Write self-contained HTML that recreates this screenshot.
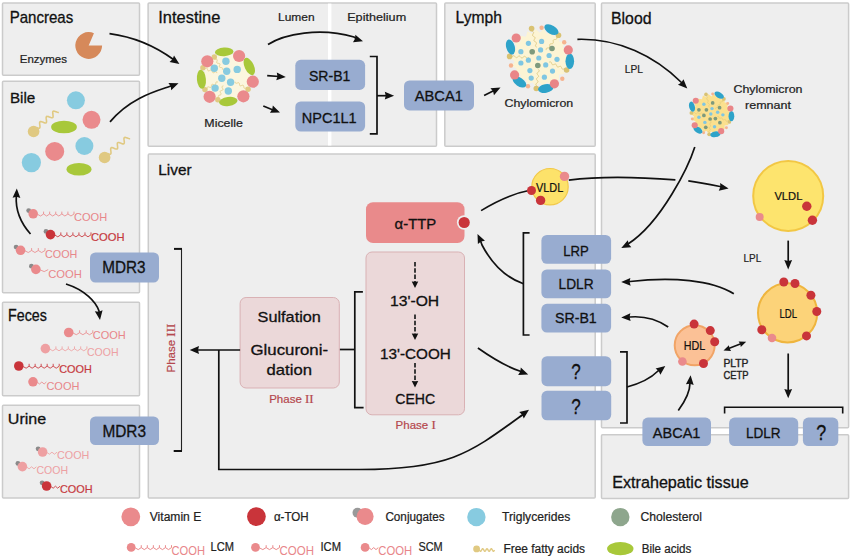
<!DOCTYPE html>
<html><head><meta charset="utf-8"><style>
html,body{margin:0;padding:0;background:#fff;width:850px;height:557px;overflow:hidden}
text{font-family:"Liberation Sans",sans-serif}
</style></head><body>
<svg width="850" height="557" viewBox="0 0 850 557" style="display:block;font-family:'Liberation Sans',sans-serif">
<rect width="850" height="557" fill="#ffffff"/>
<rect x="2.5" y="3.1" width="137.0" height="72.10000000000001" rx="1" fill="#eeeeee" stroke="#cbcbcb" stroke-width="1.5"/>
<rect x="2.5" y="81.2" width="137.0" height="211.60000000000002" rx="1" fill="#eeeeee" stroke="#cbcbcb" stroke-width="1.5"/>
<rect x="2.5" y="302.2" width="137.0" height="93.60000000000002" rx="1" fill="#eeeeee" stroke="#cbcbcb" stroke-width="1.5"/>
<rect x="2.5" y="405.2" width="137.0" height="92.80000000000001" rx="1" fill="#eeeeee" stroke="#cbcbcb" stroke-width="1.5"/>
<rect x="148.1" y="3.1" width="288.4" height="143.20000000000002" rx="1" fill="#eeeeee" stroke="#cbcbcb" stroke-width="1.5"/>
<rect x="444.8" y="3.1" width="150.40000000000003" height="143.20000000000002" rx="1" fill="#eeeeee" stroke="#cbcbcb" stroke-width="1.5"/>
<rect x="601.5" y="3.1" width="247.10000000000002" height="424.7" rx="1" fill="#eeeeee" stroke="#cbcbcb" stroke-width="1.5"/>
<rect x="148.3" y="154.0" width="446.90000000000003" height="344.0" rx="1" fill="#eeeeee" stroke="#cbcbcb" stroke-width="1.5"/>
<rect x="601.5" y="434.8" width="247.10000000000002" height="63.599999999999966" rx="1" fill="#eeeeee" stroke="#cbcbcb" stroke-width="1.5"/>
<rect x="328" y="3.6" width="3.4" height="141.9" rx="0" fill="#ffffff"/>
<text x="9.7" y="23.1" font-size="16.2" fill="#111" text-anchor="start" font-weight="normal" textLength="63.5" lengthAdjust="spacingAndGlyphs" stroke="#111" stroke-width="0.3">Pancreas</text>
<text x="9.9" y="102.5" font-size="15.2" fill="#111" text-anchor="start" font-weight="normal" textLength="25.4" lengthAdjust="spacingAndGlyphs" stroke="#111" stroke-width="0.3">Bile</text>
<text x="8.1" y="321.4" font-size="16.3" fill="#111" text-anchor="start" font-weight="normal" textLength="38.8" lengthAdjust="spacingAndGlyphs" stroke="#111" stroke-width="0.3">Feces</text>
<text x="7.8" y="423.7" font-size="15.2" fill="#111" text-anchor="start" font-weight="normal" textLength="38.4" lengthAdjust="spacingAndGlyphs" stroke="#111" stroke-width="0.3">Urine</text>
<text x="158.3" y="22.7" font-size="16.2" fill="#111" text-anchor="start" font-weight="normal" textLength="62.1" lengthAdjust="spacingAndGlyphs" stroke="#111" stroke-width="0.3">Intestine</text>
<text x="455.6" y="22.7" font-size="16.3" fill="#111" text-anchor="start" font-weight="normal" textLength="46.3" lengthAdjust="spacingAndGlyphs" stroke="#111" stroke-width="0.3">Lymph</text>
<text x="611" y="23.6" font-size="16.6" fill="#111" text-anchor="start" font-weight="normal" textLength="40.5" lengthAdjust="spacingAndGlyphs" stroke="#111" stroke-width="0.3">Blood</text>
<text x="158.3" y="175.1" font-size="15" fill="#111" text-anchor="start" font-weight="normal" textLength="33.3" lengthAdjust="spacingAndGlyphs" stroke="#111" stroke-width="0.3">Liver</text>
<text x="612.2" y="487.9" font-size="16.3" fill="#111" text-anchor="start" font-weight="normal" textLength="136.5" lengthAdjust="spacingAndGlyphs" stroke="#111" stroke-width="0.3">Extrahepatic tissue</text>
<path d="M88.7,45.5 L93.94,33.17 A13.4,13.4 0 1,0 102.10,45.50 Z" fill="#d6895a"/>
<text x="19.8" y="63.2" font-size="11" fill="#222" text-anchor="start" font-weight="normal" textLength="47.2" lengthAdjust="spacingAndGlyphs" stroke="#222" stroke-width="0.22">Enzymes</text>
<circle cx="75.90" cy="100.30" r="9.0" fill="#87cbe0"/>
<circle cx="91.50" cy="119.80" r="9.0" fill="#ea8a8c"/>
<ellipse cx="64.00" cy="127.00" rx="12.9" ry="6.3" fill="#a8c83a" transform="rotate(0 64.00 127.00)"/>
<path d="M36.50,127.50 L37.32,127.81 L38.09,128.06 L38.76,128.18 L39.29,128.14 L39.67,127.90 L39.90,127.46 L39.97,126.84 L39.94,126.07 L39.83,125.22 L39.70,124.34 L39.61,123.51 L39.60,122.77 L39.71,122.19 L39.97,121.80 L40.39,121.61 L40.96,121.61 L41.66,121.77 L42.44,122.04 L43.27,122.36 L44.08,122.67 L44.83,122.89 L45.47,122.97 L45.97,122.88 L46.31,122.59 L46.49,122.10 L46.54,121.44 L46.48,120.65 L46.36,119.78 L46.24,118.91 L46.16,118.09 L46.17,117.39 L46.32,116.86 L46.62,116.52 L47.08,116.38 L47.69,116.42 L48.41,116.61 L49.21,116.90 L50.04,117.22 L50.84,117.51 L51.56,117.70 L52.17,117.75 L52.63,117.61 L52.93,117.27 L53.08,116.73 L53.09,116.03 L53.01,115.22 L52.89,114.34 L52.77,113.48 L52.71,112.69 L52.76,112.02 L52.94,111.54 L53.28,111.25 L53.78,111.15 L54.42,111.24 L55.17,111.46 L55.98,111.76 L56.81,112.08 L57.59,112.35 L58.29,112.51 L58.86,112.51" stroke="#e0c982" stroke-width="1.6" fill="none"/>
<circle cx="33.60" cy="131.50" r="5.8" fill="#e0c982"/>
<circle cx="54.70" cy="151.40" r="9.5" fill="#ea8a8c"/>
<circle cx="84.40" cy="146.00" r="9.0" fill="#87cbe0"/>
<circle cx="31.40" cy="162.60" r="9.6" fill="#87cbe0"/>
<path d="M107.50,153.50 L108.32,153.82 L109.08,154.08 L109.75,154.21 L110.29,154.17 L110.68,153.93 L110.90,153.50 L110.99,152.87 L110.97,152.11 L110.87,151.25 L110.76,150.37 L110.68,149.53 L110.67,148.80 L110.79,148.22 L111.06,147.83 L111.49,147.65 L112.06,147.65 L112.76,147.82 L113.54,148.10 L114.36,148.43 L115.17,148.74 L115.92,148.97 L116.56,149.06 L117.06,148.97 L117.40,148.69 L117.59,148.20 L117.65,147.54 L117.60,146.74 L117.50,145.88 L117.39,145.00 L117.32,144.18 L117.35,143.48 L117.50,142.95 L117.81,142.61 L118.27,142.47 L118.88,142.52 L119.60,142.72 L120.40,143.02 L121.22,143.35 L122.02,143.65 L122.75,143.85 L123.35,143.90 L123.82,143.76 L124.12,143.43 L124.28,142.89 L124.30,142.19 L124.24,141.38 L124.13,140.50 L124.02,139.63 L123.97,138.84 L124.03,138.18 L124.22,137.69 L124.57,137.40 L125.07,137.31 L125.71,137.41 L126.45,137.64 L127.26,137.95 L128.09,138.28 L128.87,138.56 L129.57,138.72 L130.14,138.73" stroke="#e0c982" stroke-width="1.6" fill="none"/>
<circle cx="104.60" cy="157.50" r="5.8" fill="#e0c982"/>
<ellipse cx="79.00" cy="169.20" rx="12.5" ry="6.3" fill="#a8c83a" transform="rotate(0 79.00 169.20)"/>
<path d="M30.5,234 C19,221 15.5,208 16.3,196 L16.61,194.08" stroke="#111" stroke-width="1.7" fill="none" />
<path d="M16.80,188.50 L20.37,197.93 L16.51,196.86 L12.58,197.66 Z" fill="#111"/>
<path d="M37.50,214.30 L40.54,216.00 L43.58,214.00 L43.58,211.60 M43.58,214.00 L46.62,216.00 L49.67,214.00 L49.67,211.60 M49.67,214.00 L52.71,216.00 L55.75,214.00 L55.75,211.60 M55.75,214.00 L58.79,216.00 L61.83,214.00 L61.83,211.60 M61.83,214.00 L64.88,216.00 L67.92,214.00 L67.92,211.60 M67.92,214.00 L70.96,216.00 L74.00,214.00 L74.00,211.60 M74.00,214.00" stroke="#ea8a8c" stroke-width="0.85" fill="none" stroke-linejoin="round"/>
<circle cx="28.70" cy="210.60" r="2.4" fill="#8a8a8a"/>
<circle cx="33.20" cy="213.80" r="4.8" fill="#ea8a8c"/>
<text x="74" y="221.2" font-size="11" fill="#e8868a" text-anchor="start" font-weight="normal" textLength="33.2" lengthAdjust="spacingAndGlyphs" >COOH</text>
<path d="M54.80,235.10 L57.82,236.80 L60.83,234.80 L60.83,232.40 M60.83,234.80 L63.85,236.80 L66.87,234.80 L66.87,232.40 M66.87,234.80 L69.88,236.80 L72.90,234.80 L72.90,232.40 M72.90,234.80 L75.92,236.80 L78.93,234.80 L78.93,232.40 M78.93,234.80 L81.95,236.80 L84.97,234.80 L84.97,232.40 M84.97,234.80 L87.98,236.80 L91.00,234.80 L91.00,232.40 M91.00,234.80" stroke="#c9343a" stroke-width="0.85" fill="none" stroke-linejoin="round"/>
<circle cx="46.00" cy="231.40" r="2.4" fill="#8a8a8a"/>
<circle cx="50.50" cy="234.60" r="4.8" fill="#c9343a"/>
<text x="91" y="241.3" font-size="11" fill="#c63a40" text-anchor="start" font-weight="normal" textLength="33.5" lengthAdjust="spacingAndGlyphs" stroke="#c63a40" stroke-width="0.2">COOH</text>
<path d="M24.90,250.80 L28.25,252.50 L31.60,250.50 L31.60,248.10 M31.60,250.50 L34.95,252.50 L38.30,250.50 L38.30,248.10 M38.30,250.50 L41.65,252.50 L45.00,250.50 L45.00,248.10 M45.00,250.50" stroke="#ea8a8c" stroke-width="0.85" fill="none" stroke-linejoin="round"/>
<circle cx="16.10" cy="247.10" r="2.4" fill="#8a8a8a"/>
<circle cx="20.60" cy="250.30" r="4.8" fill="#ea8a8c"/>
<text x="45" y="257.5" font-size="11" fill="#e8868a" text-anchor="start" font-weight="normal" textLength="32.4" lengthAdjust="spacingAndGlyphs" >COOH</text>
<path d="M40.20,269.90 L44.20,271.60 L48.20,269.60" stroke="#ea8a8c" stroke-width="0.85" fill="none" stroke-linejoin="round"/>
<circle cx="31.40" cy="266.20" r="2.4" fill="#8a8a8a"/>
<circle cx="35.90" cy="269.40" r="4.8" fill="#ea8a8c"/>
<text x="48.2" y="277.7" font-size="11" fill="#e8868a" text-anchor="start" font-weight="normal" textLength="33.7" lengthAdjust="spacingAndGlyphs" >COOH</text>
<path d="M73.00,333.00 L76.30,334.70 L79.60,332.70 L79.60,330.30 M79.60,332.70 L82.90,334.70 L86.20,332.70 L86.20,330.30 M86.20,332.70 L89.50,334.70 L92.80,332.70 L92.80,330.30 M92.80,332.70" stroke="#ea8a8c" stroke-width="0.85" fill="none" stroke-linejoin="round"/>
<circle cx="68.70" cy="332.50" r="4.8" fill="#ea8a8c"/>
<text x="92.8" y="339.4" font-size="11" fill="#e8868a" text-anchor="start" font-weight="normal" textLength="33.0" lengthAdjust="spacingAndGlyphs" >COOH</text>
<path d="M49.70,349.10 L52.80,350.80 L55.90,348.80 L55.90,346.40 M55.90,348.80 L59.00,350.80 L62.10,348.80 L62.10,346.40 M62.10,348.80 L65.20,350.80 L68.30,348.80 L68.30,346.40 M68.30,348.80 L71.40,350.80 L74.50,348.80 L74.50,346.40 M74.50,348.80 L77.60,350.80 L80.70,348.80 L80.70,346.40 M80.70,348.80 L83.80,350.80 L86.90,348.80 L86.90,346.40 M86.90,348.80" stroke="#eea0a2" stroke-width="0.85" fill="none" stroke-linejoin="round"/>
<circle cx="45.40" cy="348.60" r="4.8" fill="#eea0a2"/>
<text x="86.9" y="355.6" font-size="11" fill="#eda0a3" text-anchor="start" font-weight="normal" textLength="31.6" lengthAdjust="spacingAndGlyphs" >COOH</text>
<path d="M23.10,366.50 L26.11,368.20 L29.12,366.20 L29.12,363.80 M29.12,366.20 L32.12,368.20 L35.13,366.20 L35.13,363.80 M35.13,366.20 L38.14,368.20 L41.15,366.20 L41.15,363.80 M41.15,366.20 L44.16,368.20 L47.17,366.20 L47.17,363.80 M47.17,366.20 L50.17,368.20 L53.18,366.20 L53.18,363.80 M53.18,366.20 L56.19,368.20 L59.20,366.20 L59.20,363.80 M59.20,366.20" stroke="#c9343a" stroke-width="0.85" fill="none" stroke-linejoin="round"/>
<circle cx="18.80" cy="366.00" r="4.8" fill="#c9343a"/>
<text x="59.2" y="373.3" font-size="11" fill="#c63a40" text-anchor="start" font-weight="normal" textLength="32.6" lengthAdjust="spacingAndGlyphs" stroke="#c63a40" stroke-width="0.2">COOH</text>
<path d="M37.30,382.30 L39.57,384.00 L41.85,382.00 L44.12,384.00 L46.40,382.00" stroke="#ea8a8c" stroke-width="0.85" fill="none" stroke-linejoin="round"/>
<circle cx="33.00" cy="381.80" r="4.8" fill="#ea8a8c"/>
<text x="46.4" y="390.3" font-size="11" fill="#e8868a" text-anchor="start" font-weight="normal" textLength="33.0" lengthAdjust="spacingAndGlyphs" >COOH</text>
<path d="M46.90,452.50 L49.42,454.20 L51.95,452.20 L54.48,454.20 L57.00,452.20" stroke="#eea0a2" stroke-width="0.85" fill="none" stroke-linejoin="round"/>
<circle cx="38.10" cy="448.80" r="2.4" fill="#8a8a8a"/>
<circle cx="42.60" cy="452.00" r="4.8" fill="#eea0a2"/>
<text x="57" y="459.4" font-size="11" fill="#eda0a3" text-anchor="start" font-weight="normal" textLength="32.4" lengthAdjust="spacingAndGlyphs" >COOH</text>
<path d="M26.70,467.10 L29.12,468.80 L31.55,466.80 L33.98,468.80 L36.40,466.80" stroke="#eea0a2" stroke-width="0.85" fill="none" stroke-linejoin="round"/>
<circle cx="17.90" cy="463.40" r="2.4" fill="#8a8a8a"/>
<circle cx="22.40" cy="466.60" r="4.8" fill="#eea0a2"/>
<text x="36.4" y="474.4" font-size="11" fill="#eda0a3" text-anchor="start" font-weight="normal" textLength="31.6" lengthAdjust="spacingAndGlyphs" >COOH</text>
<path d="M50.90,486.50 L53.17,488.20 L55.45,486.20 L57.73,488.20 L60.00,486.20" stroke="#c9343a" stroke-width="0.85" fill="none" stroke-linejoin="round"/>
<circle cx="42.10" cy="482.80" r="2.4" fill="#8a8a8a"/>
<circle cx="46.60" cy="486.00" r="4.8" fill="#c9343a"/>
<text x="60" y="493" font-size="11" fill="#c63a40" text-anchor="start" font-weight="normal" textLength="32.6" lengthAdjust="spacingAndGlyphs" stroke="#c63a40" stroke-width="0.2">COOH</text>
<rect x="90" y="252.4" width="69" height="30.2" rx="5.5" fill="#98acd0"/>
<text x="102.3" y="273.2" font-size="16" fill="#111" text-anchor="start" font-weight="normal" textLength="43.3" lengthAdjust="spacingAndGlyphs" stroke="#111" stroke-width="0.3">MDR3</text>
<rect x="90" y="416.4" width="69" height="28.6" rx="5.5" fill="#98acd0"/>
<text x="102.4" y="437" font-size="16" fill="#111" text-anchor="start" font-weight="normal" textLength="43.6" lengthAdjust="spacingAndGlyphs" stroke="#111" stroke-width="0.3">MDR3</text>
<path d="M66,284 C85,290 96,302 99,311 L99.22,314.47" stroke="#111" stroke-width="1.7" fill="none" />
<path d="M100.00,320.00 L94.84,311.33 L98.84,311.71 L102.57,310.25 Z" fill="#111"/>
<path d="M109.5,33.6 C135,37 155,46 173.5,59.5 L174.83,60.90" stroke="#111" stroke-width="1.7" fill="none" />
<path d="M179.40,64.10 L169.54,61.96 L172.54,59.30 L174.02,55.57 Z" fill="#111"/>
<path d="M110,121.9 C131.6,95.7 161.4,89.8 173,85.2 L173.29,85.30" stroke="#111" stroke-width="1.7" fill="none" />
<path d="M178.50,83.30 L171.22,90.27 L170.69,86.30 L168.42,82.99 Z" fill="#111"/>
<circle cx="227.00" cy="77.00" r="23" fill="#fbf6df"/>
<path d="M214.30,57.00 L214.17,57.38 L214.07,57.74 L214.02,58.07 L214.03,58.35 L214.13,58.59 L214.30,58.78 L214.56,58.91 L214.88,59.00 L215.25,59.07 L215.64,59.11 L216.04,59.16 L216.40,59.22 L216.73,59.31 L216.98,59.44 L217.15,59.63 L217.25,59.87 L217.26,60.15 L217.21,60.48 L217.11,60.84 L216.98,61.22 L216.85,61.60 L216.75,61.96 L216.70,62.29 L216.71,62.57 L216.81,62.81 L216.98,63.00 L217.24,63.13 L217.56,63.22 L217.93,63.29 L218.32,63.33 L218.72,63.38 L219.08,63.44 L219.41,63.53 L219.66,63.67 L219.83,63.85 L219.93,64.09 L219.94,64.38 L219.89,64.70 L219.79,65.07 L219.66,65.44 L219.53,65.82 L219.43,66.18 L219.38,66.51 L219.39,66.80 L219.49,67.03 L219.66,67.22 L219.92,67.35 L220.24,67.45 L220.61,67.51 L221.00,67.55 L221.40,67.60 L221.76,67.66 L222.09,67.75 L222.34,67.89 L222.51,68.07 L222.61,68.31 L222.62,68.60 L222.57,68.93 L222.47,69.29 L222.34,69.66" stroke="#e0c982" stroke-width="0.8" fill="none"/>
<path d="M202.90,67.70 L203.02,68.08 L203.15,68.43 L203.31,68.72 L203.49,68.95 L203.71,69.08 L203.96,69.13 L204.24,69.08 L204.55,68.97 L204.89,68.80 L205.23,68.60 L205.58,68.40 L205.91,68.23 L206.22,68.12 L206.51,68.07 L206.76,68.12 L206.97,68.25 L207.16,68.48 L207.31,68.77 L207.44,69.12 L207.56,69.50 L207.69,69.88 L207.82,70.23 L207.97,70.52 L208.16,70.75 L208.37,70.88 L208.62,70.93 L208.91,70.88 L209.22,70.77 L209.55,70.60 L209.90,70.40 L210.24,70.20 L210.58,70.03 L210.89,69.92 L211.17,69.87 L211.42,69.92 L211.64,70.05 L211.82,70.28 L211.97,70.57 L212.11,70.92 L212.23,71.30 L212.35,71.68 L212.48,72.03 L212.64,72.32 L212.82,72.55 L213.04,72.68 L213.29,72.73 L213.57,72.68 L213.88,72.57 L214.22,72.40 L214.56,72.20 L214.91,72.00 L215.24,71.83 L215.55,71.72 L215.84,71.67 L216.09,71.72 L216.30,71.85 L216.49,72.08 L216.64,72.37 L216.77,72.72 L216.89,73.10" stroke="#e0c982" stroke-width="0.8" fill="none"/>
<path d="M204.90,89.60 L205.27,89.74 L205.63,89.86 L205.95,89.93 L206.24,89.93 L206.48,89.85 L206.67,89.68 L206.82,89.44 L206.93,89.12 L207.01,88.75 L207.07,88.36 L207.14,87.97 L207.22,87.60 L207.32,87.29 L207.47,87.04 L207.66,86.87 L207.90,86.79 L208.19,86.79 L208.52,86.86 L208.87,86.98 L209.24,87.12 L209.61,87.27 L209.97,87.39 L210.30,87.45 L210.58,87.45 L210.82,87.37 L211.02,87.21 L211.16,86.96 L211.27,86.64 L211.35,86.28 L211.42,85.89 L211.48,85.49 L211.56,85.13 L211.67,84.81 L211.81,84.56 L212.01,84.40 L212.25,84.32 L212.54,84.32 L212.86,84.38 L213.22,84.50 L213.59,84.65 L213.96,84.79 L214.31,84.91 L214.64,84.98 L214.93,84.98 L215.17,84.90 L215.36,84.73 L215.51,84.48 L215.62,84.17 L215.69,83.80 L215.76,83.41 L215.82,83.02 L215.90,82.65 L216.01,82.33 L216.16,82.09 L216.35,81.92 L216.59,81.84 L216.88,81.84 L217.21,81.91 L217.56,82.03 L217.93,82.17" stroke="#e0c982" stroke-width="0.8" fill="none"/>
<path d="M217.80,99.80 L218.18,99.68 L218.53,99.56 L218.83,99.41 L219.06,99.23 L219.20,99.02 L219.24,98.76 L219.21,98.48 L219.09,98.17 L218.93,97.83 L218.74,97.48 L218.54,97.13 L218.38,96.80 L218.27,96.48 L218.23,96.20 L218.28,95.95 L218.41,95.73 L218.64,95.56 L218.94,95.41 L219.29,95.28 L219.67,95.16 L220.05,95.05 L220.40,94.92 L220.70,94.77 L220.93,94.59 L221.07,94.38 L221.11,94.13 L221.08,93.84 L220.96,93.53 L220.80,93.19 L220.61,92.84 L220.41,92.50 L220.25,92.16 L220.14,91.85 L220.10,91.56 L220.15,91.31 L220.29,91.10 L220.51,90.92 L220.81,90.77 L221.16,90.64 L221.54,90.53 L221.92,90.41 L222.27,90.28 L222.57,90.13 L222.80,89.96 L222.94,89.74 L222.99,89.49 L222.95,89.21 L222.84,88.89 L222.67,88.56 L222.48,88.21 L222.28,87.86 L222.12,87.52 L222.01,87.21 L221.97,86.92 L222.02,86.67 L222.16,86.46 L222.38,86.28 L222.68,86.13 L223.03,86.01 L223.41,85.89" stroke="#e0c982" stroke-width="0.8" fill="none"/>
<path d="M248.10,89.30 L248.04,88.91 L247.96,88.54 L247.86,88.22 L247.72,87.97 L247.52,87.81 L247.28,87.72 L247.00,87.72 L246.67,87.78 L246.31,87.90 L245.94,88.04 L245.57,88.18 L245.21,88.30 L244.88,88.36 L244.60,88.36 L244.36,88.28 L244.17,88.11 L244.02,87.86 L243.92,87.54 L243.84,87.17 L243.78,86.78 L243.72,86.39 L243.64,86.02 L243.54,85.71 L243.40,85.46 L243.20,85.29 L242.96,85.20 L242.68,85.20 L242.35,85.27 L241.99,85.38 L241.62,85.52 L241.25,85.66 L240.89,85.78 L240.57,85.84 L240.28,85.84 L240.04,85.76 L239.85,85.59 L239.70,85.34 L239.60,85.02 L239.52,84.66 L239.46,84.26 L239.40,83.87 L239.32,83.50 L239.22,83.19 L239.08,82.94 L238.88,82.77 L238.64,82.69 L238.36,82.68 L238.03,82.75 L237.67,82.86 L237.30,83.00 L236.93,83.15 L236.57,83.26 L236.25,83.33 L235.96,83.32 L235.72,83.24 L235.53,83.07 L235.38,82.82 L235.28,82.51 L235.20,82.14 L235.14,81.75" stroke="#e0c982" stroke-width="0.8" fill="none"/>
<circle cx="214.30" cy="57.00" r="2.7" fill="#e0c982"/>
<circle cx="202.90" cy="67.70" r="2.7" fill="#e0c982"/>
<circle cx="204.90" cy="89.60" r="2.7" fill="#e0c982"/>
<circle cx="217.80" cy="99.80" r="2.7" fill="#e0c982"/>
<circle cx="248.10" cy="89.30" r="2.7" fill="#e0c982"/>
<circle cx="225.90" cy="61.30" r="3.7" fill="#87cbe0"/>
<circle cx="214.30" cy="68.30" r="3.7" fill="#87cbe0"/>
<circle cx="237.20" cy="69.40" r="3.7" fill="#87cbe0"/>
<circle cx="226.70" cy="71.20" r="3.7" fill="#87cbe0"/>
<circle cx="221.80" cy="78.20" r="3.7" fill="#87cbe0"/>
<circle cx="230.60" cy="82.30" r="3.7" fill="#87cbe0"/>
<circle cx="215.10" cy="88.10" r="3.7" fill="#87cbe0"/>
<circle cx="228.30" cy="91.00" r="3.7" fill="#87cbe0"/>
<ellipse cx="224.20" cy="51.90" rx="9.3" ry="4.3" fill="#a8c83a" transform="rotate(-3 224.20 51.90)"/>
<ellipse cx="249.30" cy="66.50" rx="9.3" ry="4.6" fill="#a8c83a" transform="rotate(65 249.30 66.50)"/>
<ellipse cx="228.30" cy="101.50" rx="9.3" ry="4.5" fill="#a8c83a" transform="rotate(-8 228.30 101.50)"/>
<ellipse cx="201.40" cy="79.30" rx="9.5" ry="4.5" fill="#a8c83a" transform="rotate(85 201.40 79.30)"/>
<circle cx="239.10" cy="56.00" r="6.1" fill="#ea8a8c"/>
<circle cx="252.80" cy="81.70" r="6.1" fill="#ea8a8c"/>
<circle cx="243.40" cy="96.30" r="6.1" fill="#ea8a8c"/>
<circle cx="209.60" cy="96.80" r="6.1" fill="#ea8a8c"/>
<circle cx="207.30" cy="61.30" r="6.1" fill="#ea8a8c"/>
<text x="204.3" y="127" font-size="11.5" fill="#222" text-anchor="start" font-weight="normal" textLength="38.6" lengthAdjust="spacingAndGlyphs" stroke="#222" stroke-width="0.22">Micelle</text>
<text x="278" y="21.2" font-size="11.5" fill="#222" text-anchor="start" font-weight="normal" textLength="36.6" lengthAdjust="spacingAndGlyphs" stroke="#222" stroke-width="0.22">Lumen</text>
<text x="347.2" y="21.2" font-size="11.5" fill="#222" text-anchor="start" font-weight="normal" textLength="59" lengthAdjust="spacingAndGlyphs" stroke="#222" stroke-width="0.22">Epithelium</text>
<path d="M268,44.5 C284,34 320,27 354,37 L357.69,39.58" stroke="#111" stroke-width="1.7" fill="none" />
<path d="M363.00,41.30 L352.95,42.14 L355.04,38.71 L355.36,34.72 Z" fill="#111"/>
<path d="M267.2,75.6 L279,76.5 L280.23,76.61" stroke="#111" stroke-width="1.7" fill="none" />
<path d="M285.80,77.00 L276.25,80.24 L277.45,76.42 L276.79,72.46 Z" fill="#111"/>
<path d="M263.3,106 L273,110 L274.83,110.41" stroke="#111" stroke-width="1.7" fill="none" />
<path d="M280.00,112.50 L269.92,112.63 L272.24,109.36 L272.84,105.40 Z" fill="#111"/>
<rect x="295.3" y="59.8" width="69.8" height="30.1" rx="5.5" fill="#98acd0"/>
<text x="309" y="80.7" font-size="15" fill="#111" text-anchor="start" font-weight="normal" textLength="41.3" lengthAdjust="spacingAndGlyphs" stroke="#111" stroke-width="0.3">SR-B1</text>
<rect x="295.3" y="101.4" width="69.8" height="30.2" rx="5.5" fill="#98acd0"/>
<text x="301.8" y="122.7" font-size="15" fill="#111" text-anchor="start" font-weight="normal" textLength="54.9" lengthAdjust="spacingAndGlyphs" stroke="#111" stroke-width="0.3">NPC1L1</text>
<path d="M369.8,56.5 H377 V133.8 H369.8" stroke="#111" stroke-width="1.7" fill="none" />
<path d="M377,95.7 H386 L388.52,95.70" stroke="#111" stroke-width="1.7" fill="none" />
<path d="M394.10,95.70 L384.80,99.60 L385.73,95.70 L384.80,91.80 Z" fill="#111"/>
<rect x="404" y="80.4" width="70" height="30" rx="5.5" fill="#98acd0"/>
<text x="414.8" y="101.1" font-size="15" fill="#111" text-anchor="start" font-weight="normal" textLength="48" lengthAdjust="spacingAndGlyphs" stroke="#111" stroke-width="0.3">ABCA1</text>
<path d="M484.1,95.6 L494,90.5 L495.53,90.03" stroke="#111" stroke-width="1.7" fill="none" />
<path d="M500.50,87.50 L493.98,95.20 L493.04,91.30 L490.44,88.25 Z" fill="#111"/>
<path d="M569.20,58.00 L564.81,61.61 L568.01,66.31 L562.78,68.54 L564.52,73.95 L558.87,74.61 L559.02,80.29 L553.42,79.34 L551.95,84.83 L546.85,82.34 L543.90,87.20 L539.70,83.37 L535.50,87.20 L532.55,82.34 L527.45,84.83 L525.98,79.34 L520.38,80.29 L520.53,74.61 L514.88,73.95 L516.62,68.54 L511.39,66.31 L514.59,61.61 L510.20,58.00 L514.59,54.39 L511.39,49.69 L516.62,47.46 L514.88,42.05 L520.53,41.39 L520.38,35.71 L525.98,36.66 L527.45,31.17 L532.55,33.66 L535.50,28.80 L539.70,32.63 L543.90,28.80 L546.85,33.66 L551.95,31.17 L553.42,36.66 L559.02,35.71 L558.87,41.39 L564.52,42.05 L562.78,47.46 L568.01,49.69 L564.81,54.39Z" fill="#fcf4d4"/>
<path d="M531.60,28.60 L531.37,28.99 L531.19,29.38 L531.08,29.74 L531.08,30.07 L531.19,30.37 L531.41,30.64 L531.72,30.89 L532.10,31.11 L532.50,31.34 L532.88,31.56 L533.21,31.80 L533.44,32.07 L533.57,32.37 L533.58,32.70 L533.49,33.05 L533.31,33.43 L533.09,33.83 L532.86,34.22 L532.67,34.60 L532.55,34.97 L532.53,35.31 L532.62,35.61 L532.82,35.89 L533.13,36.14 L533.50,36.36 L533.90,36.59 L534.29,36.81 L534.62,37.05 L534.87,37.31 L535.01,37.60 L535.04,37.93 L534.96,38.28 L534.80,38.66 L534.58,39.05 L534.35,39.45 L534.15,39.83 L534.01,40.20 L533.98,40.54 L534.05,40.85 L534.24,41.13 L534.53,41.38 L534.90,41.61 L535.30,41.84 L535.69,42.06 L536.03,42.30 L536.30,42.55 L536.46,42.84 L536.50,43.16 L536.43,43.51 L536.28,43.89 L536.06,44.28 L535.83,44.67 L535.63,45.06 L535.48,45.43 L535.43,45.78 L535.49,46.09 L535.67,46.37 L535.94,46.63 L536.30,46.86 L536.69,47.09" stroke="#dcc77e" stroke-width="0.9" fill="none"/>
<path d="M558.50,35.30 L558.05,35.34 L557.63,35.41 L557.27,35.53 L557.00,35.71 L556.81,35.98 L556.72,36.31 L556.70,36.71 L556.73,37.15 L556.77,37.60 L556.81,38.05 L556.80,38.45 L556.71,38.80 L556.54,39.07 L556.28,39.27 L555.93,39.40 L555.52,39.47 L555.07,39.51 L554.62,39.55 L554.19,39.62 L553.82,39.73 L553.53,39.90 L553.34,40.15 L553.23,40.48 L553.20,40.87 L553.22,41.30 L553.27,41.76 L553.31,42.21 L553.31,42.62 L553.24,42.97 L553.08,43.26 L552.83,43.47 L552.49,43.60 L552.09,43.68 L551.64,43.73 L551.19,43.77 L550.75,43.82 L550.38,43.93 L550.08,44.09 L549.87,44.33 L549.75,44.65 L549.71,45.03 L549.72,45.46 L549.77,45.91 L549.81,46.36 L549.82,46.78 L549.76,47.15 L549.61,47.44 L549.37,47.66 L549.05,47.81 L548.65,47.89 L548.21,47.94 L547.76,47.98 L547.32,48.03 L546.93,48.13 L546.62,48.28 L546.40,48.51 L546.26,48.82 L546.21,49.19 L546.22,49.62 L546.27,50.07" stroke="#dcc77e" stroke-width="0.9" fill="none"/>
<path d="M509.60,56.40 L509.90,56.74 L510.21,57.04 L510.51,57.25 L510.83,57.36 L511.15,57.35 L511.48,57.23 L511.81,57.01 L512.14,56.72 L512.48,56.41 L512.82,56.12 L513.15,55.89 L513.48,55.75 L513.80,55.72 L514.11,55.82 L514.42,56.02 L514.73,56.31 L515.03,56.64 L515.33,56.98 L515.63,57.29 L515.94,57.52 L516.25,57.64 L516.57,57.65 L516.90,57.54 L517.23,57.34 L517.57,57.06 L517.90,56.75 L518.24,56.45 L518.57,56.21 L518.90,56.05 L519.22,56.01 L519.54,56.09 L519.85,56.27 L520.15,56.55 L520.46,56.88 L520.76,57.23 L521.06,57.54 L521.37,57.78 L521.68,57.92 L522.00,57.95 L522.32,57.86 L522.65,57.66 L522.99,57.39 L523.33,57.08 L523.66,56.78 L523.99,56.53 L524.32,56.36 L524.65,56.30 L524.96,56.36 L525.27,56.53 L525.58,56.80 L525.88,57.12 L526.18,57.47 L526.49,57.79 L526.79,58.04 L527.11,58.20 L527.42,58.24 L527.75,58.17 L528.08,57.99 L528.41,57.72 L528.75,57.42" stroke="#dcc77e" stroke-width="0.9" fill="none"/>
<path d="M566.60,70.00 L566.44,69.58 L566.26,69.19 L566.05,68.88 L565.80,68.66 L565.49,68.56 L565.15,68.55 L564.76,68.64 L564.34,68.79 L563.92,68.96 L563.50,69.11 L563.10,69.21 L562.75,69.22 L562.44,69.13 L562.18,68.93 L561.96,68.63 L561.78,68.25 L561.62,67.83 L561.46,67.40 L561.29,67.01 L561.08,66.68 L560.83,66.45 L560.54,66.33 L560.19,66.32 L559.81,66.39 L559.40,66.53 L558.97,66.70 L558.55,66.86 L558.16,66.97 L557.79,66.99 L557.48,66.92 L557.21,66.73 L556.99,66.44 L556.80,66.08 L556.64,65.66 L556.48,65.23 L556.31,64.83 L556.11,64.49 L555.87,64.25 L555.58,64.11 L555.24,64.08 L554.86,64.14 L554.46,64.28 L554.03,64.44 L553.61,64.61 L553.21,64.72 L552.84,64.76 L552.52,64.70 L552.24,64.53 L552.01,64.26 L551.82,63.90 L551.66,63.49 L551.50,63.06 L551.33,62.65 L551.14,62.30 L550.90,62.05 L550.62,61.89 L550.29,61.85 L549.92,61.90 L549.51,62.02 L549.09,62.19" stroke="#dcc77e" stroke-width="0.9" fill="none"/>
<path d="M536.30,88.50 L536.66,88.22 L536.97,87.93 L537.20,87.64 L537.33,87.33 L537.34,87.01 L537.24,86.67 L537.04,86.33 L536.77,85.98 L536.48,85.63 L536.21,85.27 L535.99,84.93 L535.87,84.59 L535.87,84.27 L535.98,83.96 L536.20,83.67 L536.50,83.38 L536.86,83.10 L537.21,82.81 L537.54,82.53 L537.78,82.23 L537.93,81.93 L537.95,81.61 L537.86,81.28 L537.68,80.94 L537.42,80.59 L537.13,80.23 L536.85,79.88 L536.63,79.53 L536.49,79.20 L536.47,78.87 L536.56,78.56 L536.77,78.26 L537.06,77.97 L537.41,77.69 L537.77,77.41 L538.10,77.12 L538.36,76.83 L538.52,76.53 L538.56,76.21 L538.49,75.88 L538.31,75.54 L538.06,75.19 L537.78,74.84 L537.49,74.48 L537.26,74.14 L537.11,73.80 L537.07,73.47 L537.15,73.16 L537.34,72.86 L537.62,72.57 L537.97,72.29 L538.33,72.00 L538.66,71.72 L538.94,71.43 L539.11,71.13 L539.17,70.81 L539.12,70.48 L538.95,70.14 L538.71,69.80 L538.42,69.44" stroke="#dcc77e" stroke-width="0.9" fill="none"/>
<circle cx="528.40" cy="43.30" r="2.6" fill="#7fc6e2"/>
<circle cx="541.60" cy="41.40" r="2.6" fill="#7fc6e2"/>
<circle cx="540.60" cy="49.90" r="2.6" fill="#7fc6e2"/>
<circle cx="520.90" cy="51.70" r="2.6" fill="#7fc6e2"/>
<circle cx="549.10" cy="55.50" r="2.6" fill="#7fc6e2"/>
<circle cx="528.40" cy="60.20" r="2.6" fill="#7fc6e2"/>
<circle cx="538.80" cy="58.00" r="2.6" fill="#7fc6e2"/>
<circle cx="557.00" cy="59.30" r="2.6" fill="#7fc6e2"/>
<circle cx="520.90" cy="63.00" r="2.6" fill="#7fc6e2"/>
<circle cx="545.70" cy="64.90" r="2.6" fill="#7fc6e2"/>
<circle cx="529.90" cy="70.60" r="2.6" fill="#7fc6e2"/>
<circle cx="552.50" cy="71.10" r="2.6" fill="#7fc6e2"/>
<circle cx="531.20" cy="78.10" r="2.6" fill="#7fc6e2"/>
<circle cx="544.40" cy="77.20" r="2.6" fill="#7fc6e2"/>
<circle cx="532.20" cy="51.70" r="2.8" fill="#7e9a7d"/>
<circle cx="552.00" cy="48.50" r="2.8" fill="#7e9a7d"/>
<circle cx="537.80" cy="65.50" r="2.8" fill="#7e9a7d"/>
<circle cx="541.60" cy="27.80" r="2.2" fill="#f6b38f"/>
<circle cx="564.20" cy="42.30" r="2.2" fill="#f6b38f"/>
<circle cx="511.00" cy="65.50" r="2.2" fill="#f6b38f"/>
<circle cx="562.30" cy="78.70" r="2.2" fill="#f6b38f"/>
<circle cx="528.00" cy="86.20" r="2.2" fill="#f6b38f"/>
<circle cx="531.60" cy="28.60" r="2.8" fill="#d9c272"/>
<circle cx="558.50" cy="35.30" r="2.8" fill="#d9c272"/>
<circle cx="509.60" cy="56.40" r="2.8" fill="#d9c272"/>
<circle cx="566.60" cy="70.00" r="2.8" fill="#d9c272"/>
<circle cx="536.30" cy="88.50" r="2.8" fill="#d9c272"/>
<ellipse cx="551.40" cy="29.70" rx="7.8" ry="4.3" fill="#2ea3c9" transform="rotate(30 551.40 29.70)"/>
<ellipse cx="510.50" cy="47.00" rx="7.8" ry="4.3" fill="#2ea3c9" transform="rotate(75 510.50 47.00)"/>
<ellipse cx="569.80" cy="61.20" rx="7.8" ry="4.3" fill="#2ea3c9" transform="rotate(90 569.80 61.20)"/>
<ellipse cx="519.40" cy="81.90" rx="7.8" ry="4.3" fill="#2ea3c9" transform="rotate(35 519.40 81.90)"/>
<ellipse cx="545.70" cy="88.50" rx="7.8" ry="4.3" fill="#2ea3c9" transform="rotate(-10 545.70 88.50)"/>
<circle cx="516.20" cy="38.00" r="4.6" fill="#e98588"/>
<circle cx="568.30" cy="49.90" r="4.6" fill="#e98588"/>
<circle cx="514.60" cy="74.90" r="4.6" fill="#e98588"/>
<circle cx="554.40" cy="83.80" r="4.6" fill="#e98588"/>
<text x="504.5" y="107.3" font-size="11.5" fill="#222" text-anchor="start" font-weight="normal" textLength="68.7" lengthAdjust="spacingAndGlyphs" stroke="#222" stroke-width="0.22">Chylomicron</text>
<path d="M577.4,39.3 C618,38 655,56 681.5,82.5 L683.35,84.55" stroke="#111" stroke-width="1.7" fill="none" />
<path d="M687.30,88.50 L677.97,84.68 L681.38,82.58 L683.48,79.17 Z" fill="#111"/>
<text x="624.8" y="73.1" font-size="11" fill="#222" text-anchor="start" font-weight="normal" textLength="18.1" lengthAdjust="spacingAndGlyphs" stroke="#222" stroke-width="0.22">LPL</text>
<path d="M731.70,114.00 L728.68,116.48 L730.88,119.72 L727.28,121.25 L728.48,124.98 L724.59,125.43 L724.69,129.34 L720.84,128.69 L719.83,132.47 L716.32,130.75 L714.29,134.09 L711.40,131.46 L708.51,134.09 L706.48,130.75 L702.97,132.47 L701.96,128.69 L698.11,129.34 L698.21,125.43 L694.32,124.98 L695.52,121.25 L691.92,119.72 L694.12,116.48 L691.10,114.00 L694.12,111.52 L691.92,108.28 L695.52,106.75 L694.32,103.02 L698.21,102.57 L698.11,98.66 L701.96,99.31 L702.97,95.53 L706.48,97.25 L708.51,93.91 L711.40,96.54 L714.29,93.91 L716.32,97.25 L719.83,95.53 L720.84,99.31 L724.69,98.66 L724.59,102.57 L728.48,103.02 L727.28,106.75 L730.88,108.28 L728.68,111.52Z" fill="#fbe08e"/>
<path d="M706.01,94.45 L705.87,94.72 L705.74,94.98 L705.67,95.23 L705.67,95.46 L705.75,95.66 L705.90,95.85 L706.11,96.02 L706.36,96.18 L706.63,96.33 L706.89,96.49 L707.10,96.66 L707.26,96.84 L707.35,97.05 L707.36,97.27 L707.30,97.52 L707.18,97.78 L707.04,98.04 L706.89,98.31 L706.76,98.58 L706.68,98.83 L706.67,99.06 L706.73,99.27 L706.87,99.46 L707.08,99.63 L707.32,99.79 L707.59,99.94 L707.85,100.10 L708.08,100.27 L708.25,100.45 L708.34,100.65 L708.36,100.87 L708.31,101.12 L708.20,101.37 L708.06,101.64 L707.91,101.91 L707.78,102.18 L707.69,102.43 L707.67,102.66 L707.72,102.87 L707.85,103.07 L708.05,103.24 L708.29,103.40 L708.56,103.56 L708.82,103.71 L709.05,103.88 L709.23,104.06 L709.34,104.26 L709.37,104.47 L709.32,104.71 L709.22,104.97 L709.08,105.24 L708.93,105.51 L708.80,105.77 L708.70,106.03 L708.67,106.26 L708.71,106.48 L708.83,106.68 L709.02,106.85 L709.25,107.01 L709.52,107.17" stroke="#dcc77e" stroke-width="0.5985" fill="none"/>
<path d="M723.90,98.90 L723.60,98.94 L723.31,98.99 L723.07,99.07 L722.88,99.20 L722.76,99.38 L722.69,99.61 L722.67,99.88 L722.68,100.18 L722.71,100.49 L722.73,100.79 L722.72,101.06 L722.66,101.30 L722.54,101.49 L722.36,101.62 L722.12,101.72 L721.85,101.77 L721.54,101.80 L721.23,101.84 L720.95,101.88 L720.70,101.96 L720.50,102.08 L720.37,102.26 L720.29,102.48 L720.26,102.75 L720.28,103.04 L720.30,103.35 L720.32,103.65 L720.32,103.93 L720.26,104.17 L720.15,104.37 L719.98,104.51 L719.76,104.61 L719.48,104.67 L719.18,104.70 L718.87,104.73 L718.58,104.78 L718.33,104.85 L718.12,104.97 L717.98,105.13 L717.89,105.35 L717.86,105.61 L717.87,105.90 L717.89,106.21 L717.92,106.51 L717.92,106.80 L717.87,107.04 L717.77,107.25 L717.61,107.40 L717.39,107.50 L717.12,107.56 L716.82,107.60 L716.51,107.63 L716.22,107.67 L715.95,107.74 L715.74,107.85 L715.59,108.01 L715.50,108.22 L715.46,108.47 L715.46,108.76 L715.49,109.07" stroke="#dcc77e" stroke-width="0.5985" fill="none"/>
<path d="M691.38,112.94 L691.59,113.16 L691.80,113.36 L692.01,113.50 L692.23,113.58 L692.45,113.57 L692.68,113.49 L692.90,113.34 L693.13,113.15 L693.36,112.95 L693.60,112.75 L693.82,112.60 L694.05,112.51 L694.27,112.49 L694.49,112.55 L694.70,112.69 L694.91,112.88 L695.12,113.10 L695.33,113.33 L695.54,113.53 L695.75,113.69 L695.96,113.77 L696.18,113.78 L696.41,113.71 L696.64,113.57 L696.87,113.38 L697.10,113.18 L697.33,112.98 L697.56,112.82 L697.78,112.72 L698.00,112.69 L698.22,112.74 L698.43,112.87 L698.64,113.05 L698.85,113.27 L699.06,113.50 L699.27,113.71 L699.48,113.87 L699.70,113.96 L699.92,113.98 L700.14,113.92 L700.37,113.79 L700.60,113.61 L700.83,113.41 L701.06,113.21 L701.29,113.04 L701.51,112.93 L701.74,112.89 L701.95,112.93 L702.17,113.04 L702.38,113.22 L702.59,113.44 L702.80,113.67 L703.01,113.88 L703.22,114.05 L703.43,114.16 L703.65,114.18 L703.87,114.13 L704.10,114.01 L704.33,113.84 L704.56,113.64" stroke="#dcc77e" stroke-width="0.5985" fill="none"/>
<path d="M729.29,121.98 L729.18,121.69 L729.05,121.44 L728.90,121.22 L728.73,121.08 L728.52,121.00 L728.28,121.00 L728.02,121.06 L727.73,121.15 L727.44,121.26 L727.16,121.36 L726.89,121.42 L726.65,121.42 L726.43,121.36 L726.25,121.23 L726.10,121.02 L725.98,120.77 L725.86,120.49 L725.75,120.20 L725.63,119.93 L725.48,119.71 L725.31,119.56 L725.11,119.47 L724.87,119.46 L724.61,119.51 L724.33,119.60 L724.04,119.71 L723.76,119.81 L723.48,119.88 L723.24,119.89 L723.02,119.84 L722.83,119.71 L722.68,119.52 L722.55,119.27 L722.43,118.99 L722.32,118.70 L722.20,118.43 L722.06,118.21 L721.90,118.04 L721.70,117.95 L721.47,117.92 L721.21,117.96 L720.93,118.05 L720.64,118.16 L720.35,118.26 L720.08,118.33 L719.83,118.36 L719.61,118.31 L719.42,118.20 L719.26,118.01 L719.12,117.77 L719.01,117.50 L718.90,117.21 L718.78,116.93 L718.64,116.70 L718.48,116.52 L718.28,116.42 L718.06,116.39 L717.80,116.42 L717.53,116.50 L717.24,116.60" stroke="#dcc77e" stroke-width="0.5985" fill="none"/>
<path d="M709.14,134.28 L709.38,134.09 L709.59,133.89 L709.74,133.69 L709.83,133.47 L709.84,133.25 L709.77,133.02 L709.63,132.79 L709.46,132.55 L709.27,132.31 L709.09,132.06 L708.94,131.83 L708.87,131.60 L708.86,131.37 L708.94,131.16 L709.08,130.96 L709.29,130.76 L709.52,130.56 L709.76,130.37 L709.98,130.17 L710.14,129.97 L710.24,129.76 L710.26,129.54 L710.20,129.31 L710.07,129.08 L709.90,128.84 L709.71,128.59 L709.53,128.35 L709.38,128.11 L709.29,127.88 L709.28,127.66 L709.34,127.45 L709.48,127.24 L709.67,127.04 L709.91,126.84 L710.15,126.65 L710.37,126.45 L710.54,126.25 L710.65,126.04 L710.68,125.82 L710.63,125.60 L710.51,125.36 L710.35,125.12 L710.16,124.88 L709.97,124.64 L709.81,124.40 L709.72,124.17 L709.69,123.94 L709.74,123.73 L709.87,123.52 L710.06,123.32 L710.29,123.13 L710.53,122.93 L710.75,122.73 L710.94,122.53 L711.05,122.33 L711.09,122.11 L711.06,121.88 L710.95,121.65 L710.79,121.41 L710.60,121.17" stroke="#dcc77e" stroke-width="0.5985" fill="none"/>
<circle cx="703.89" cy="104.22" r="1.729" fill="#7fc6e2"/>
<circle cx="712.00" cy="108.61" r="1.729" fill="#7fc6e2"/>
<circle cx="717.65" cy="112.34" r="1.729" fill="#7fc6e2"/>
<circle cx="710.80" cy="114.00" r="1.729" fill="#7fc6e2"/>
<circle cx="722.90" cy="114.86" r="1.729" fill="#7fc6e2"/>
<circle cx="698.90" cy="117.33" r="1.729" fill="#7fc6e2"/>
<circle cx="704.88" cy="122.38" r="1.729" fill="#7fc6e2"/>
<circle cx="714.53" cy="126.77" r="1.729" fill="#7fc6e2"/>
<circle cx="706.41" cy="109.81" r="1.8619999999999999" fill="#7e9a7d"/>
<circle cx="719.58" cy="107.68" r="1.8619999999999999" fill="#7e9a7d"/>
<circle cx="710.14" cy="118.99" r="1.8619999999999999" fill="#7e9a7d"/>
<circle cx="703.89" cy="115.46" r="1.8619999999999999" fill="#7e9a7d"/>
<circle cx="715.39" cy="118.59" r="1.8619999999999999" fill="#7e9a7d"/>
<circle cx="705.75" cy="127.37" r="1.8619999999999999" fill="#7e9a7d"/>
<circle cx="719.91" cy="122.71" r="1.8619999999999999" fill="#7e9a7d"/>
<circle cx="712.66" cy="102.96" r="1.8619999999999999" fill="#7e9a7d"/>
<circle cx="698.90" cy="109.81" r="1.8619999999999999" fill="#7e9a7d"/>
<circle cx="712.66" cy="93.92" r="1.4630000000000003" fill="#f6b38f"/>
<circle cx="727.69" cy="103.56" r="1.4630000000000003" fill="#f6b38f"/>
<circle cx="692.31" cy="118.99" r="1.4630000000000003" fill="#f6b38f"/>
<circle cx="726.43" cy="127.77" r="1.4630000000000003" fill="#f6b38f"/>
<circle cx="703.62" cy="132.75" r="1.4630000000000003" fill="#f6b38f"/>
<circle cx="706.01" cy="94.45" r="1.8619999999999999" fill="#d9c272"/>
<circle cx="723.90" cy="98.90" r="1.8619999999999999" fill="#d9c272"/>
<circle cx="691.38" cy="112.94" r="1.8619999999999999" fill="#d9c272"/>
<circle cx="729.29" cy="121.98" r="1.8619999999999999" fill="#d9c272"/>
<circle cx="709.14" cy="134.28" r="1.8619999999999999" fill="#d9c272"/>
<ellipse cx="719.18" cy="95.18" rx="5.187" ry="2.8595" fill="#2ea3c9" transform="rotate(30 719.18 95.18)"/>
<ellipse cx="691.98" cy="106.69" rx="5.187" ry="2.8595" fill="#2ea3c9" transform="rotate(75 691.98 106.69)"/>
<ellipse cx="731.42" cy="116.13" rx="5.187" ry="2.8595" fill="#2ea3c9" transform="rotate(90 731.42 116.13)"/>
<ellipse cx="697.90" cy="129.89" rx="5.187" ry="2.8595" fill="#2ea3c9" transform="rotate(35 697.90 129.89)"/>
<ellipse cx="715.39" cy="134.28" rx="5.187" ry="2.8595" fill="#2ea3c9" transform="rotate(-10 715.39 134.28)"/>
<circle cx="695.77" cy="100.70" r="3.0589999999999997" fill="#e98588"/>
<circle cx="730.42" cy="108.61" r="3.0589999999999997" fill="#e98588"/>
<circle cx="694.71" cy="125.24" r="3.0589999999999997" fill="#e98588"/>
<circle cx="721.18" cy="131.16" r="3.0589999999999997" fill="#e98588"/>
<text x="733.5" y="92.6" font-size="11.5" fill="#222" text-anchor="start" font-weight="normal" textLength="69" lengthAdjust="spacingAndGlyphs" stroke="#222" stroke-width="0.22">Chylomicron</text>
<text x="745" y="109.4" font-size="11.5" fill="#222" text-anchor="start" font-weight="normal" textLength="45.9" lengthAdjust="spacingAndGlyphs" stroke="#222" stroke-width="0.22">remnant</text>
<rect x="366" y="202.3" width="98.5" height="40.7" rx="7" fill="#e98a8b"/>
<circle cx="464.20" cy="222.50" r="7.3" fill="#eeeeee"/>
<circle cx="464.20" cy="222.50" r="5.6" fill="#c9343a"/>
<text x="394.6" y="228.6" font-size="15" fill="#111" text-anchor="start" font-weight="normal" textLength="41.6" lengthAdjust="spacingAndGlyphs" stroke="#111" stroke-width="0.3">α-TTP</text>
<rect x="366" y="252" width="98.5" height="162.8" rx="6" fill="#ebd8d9" stroke="#d9b1b4" stroke-width="1"/>
<path d="M415,262 V283" stroke="#333" stroke-width="1.9" stroke-dasharray="4.5,1.8" fill="none"/>
<path d="M415.00,288.00 L411.75,281.50 L415.00,281.82 L418.25,281.50 Z" fill="#111"/>
<path d="M415,314.5 V335" stroke="#333" stroke-width="1.9" stroke-dasharray="4.5,1.8" fill="none"/>
<path d="M415.00,340.00 L411.75,333.50 L415.00,333.82 L418.25,333.50 Z" fill="#111"/>
<path d="M415,363 V382.5" stroke="#333" stroke-width="1.9" stroke-dasharray="4.5,1.8" fill="none"/>
<path d="M415.00,387.50 L411.75,381.00 L415.00,381.32 L418.25,381.00 Z" fill="#111"/>
<text x="390" y="306.4" font-size="14.5" fill="#111" text-anchor="start" font-weight="normal" textLength="49.2" lengthAdjust="spacingAndGlyphs" stroke="#111" stroke-width="0.3">13'-OH</text>
<text x="380.1" y="359.2" font-size="14.5" fill="#111" text-anchor="start" font-weight="normal" textLength="70.7" lengthAdjust="spacingAndGlyphs" stroke="#111" stroke-width="0.3">13'-COOH</text>
<text x="395.2" y="403.9" font-size="14.5" fill="#111" text-anchor="start" font-weight="normal" textLength="40" lengthAdjust="spacingAndGlyphs" stroke="#111" stroke-width="0.3">CEHC</text>
<text x="395.6" y="429.3" font-size="11.5" fill="#b5474d" stroke="#b5474d" stroke-width="0.2">Phase <tspan font-family="Liberation Serif" font-size="13">I</tspan></text>
<path d="M362.9,291.8 H354.8 V407.6 H363.6" stroke="#111" stroke-width="1.7" fill="none" />
<path d="M339.3,349.5 H354.8" stroke="#111" stroke-width="1.7" fill="none" />
<rect x="240.1" y="297.5" width="99.2" height="90.5" rx="6" fill="#ebd8d9" stroke="#d9b1b4" stroke-width="1"/>
<text x="257.6" y="322.4" font-size="15" fill="#111" text-anchor="start" font-weight="normal" textLength="63.3" lengthAdjust="spacingAndGlyphs" stroke="#111" stroke-width="0.3">Sulfation</text>
<text x="250.5" y="354.7" font-size="15" fill="#111" text-anchor="start" font-weight="normal" textLength="77.5" lengthAdjust="spacingAndGlyphs" stroke="#111" stroke-width="0.3">Glucuroni-</text>
<text x="266.6" y="375" font-size="15" fill="#111" text-anchor="start" font-weight="normal" textLength="45.3" lengthAdjust="spacingAndGlyphs" stroke="#111" stroke-width="0.3">dation</text>
<text x="269.2" y="402.9" font-size="11.5" fill="#b5474d" stroke="#b5474d" stroke-width="0.2">Phase <tspan font-family="Liberation Serif" font-size="13">II</tspan></text>
<path d="M240.1,350 H198 L195.28,350.00" stroke="#111" stroke-width="1.7" fill="none" />
<path d="M189.70,350.00 L199.00,346.10 L198.07,350.00 L199.00,353.90 Z" fill="#111"/>
<path d="M181.5,249 V451" stroke="#222" stroke-width="1.1" fill="none" />
<path d="M174,248.9 H182" stroke="#111" stroke-width="2.0" fill="none" />
<path d="M173.7,451 H182" stroke="#111" stroke-width="2.0" fill="none" />
<text x="0" y="0" font-size="11.5" fill="#b5474d" stroke="#b5474d" stroke-width="0.2" transform="translate(174.5,372.5) rotate(-90)">Phase <tspan font-family="Liberation Serif" font-size="13">III</tspan></text>
<path d="M218.8,350 V469.5 H360 C450,469.5 470,453 523,414.5 L524.49,413.08" stroke="#111" stroke-width="1.7" fill="none" />
<path d="M529.00,409.80 L523.77,418.42 L522.23,414.72 L519.18,412.11 Z" fill="#111"/>
<path d="M481.1,210.6 C500,199 515,193 531,190" stroke="#111" stroke-width="1.7" fill="none" />
<circle cx="550.00" cy="186.70" r="18.2" fill="#fde26a" stroke="#f2c94a" stroke-width="1.2"/>
<circle cx="564.50" cy="176.40" r="4.7" fill="#ea8a8c"/>
<circle cx="531.50" cy="190.50" r="4.5" fill="#c9343a"/>
<circle cx="540.60" cy="200.40" r="4.7" fill="#c9343a"/>
<text x="536" y="191.8" font-size="12.5" fill="#111" text-anchor="start" font-weight="normal" textLength="27.3" lengthAdjust="spacingAndGlyphs" stroke="#111" stroke-width="0.22">VLDL</text>
<path d="M568.8,180.1 C600,176 640,177 675.4,179.8" stroke="#111" stroke-width="1.7" fill="none" />
<path d="M688.3,180.9 C700,182.5 710,184.5 720,186.5 L723.10,187.53" stroke="#111" stroke-width="1.7" fill="none" />
<path d="M728.60,188.50 L718.76,190.73 L720.36,187.05 L720.12,183.04 Z" fill="#111"/>
<path d="M694.8,146.9 C689,165 662,222 628,244 L626.27,245.47" stroke="#111" stroke-width="1.7" fill="none" />
<path d="M621.30,248.00 L627.82,240.30 L628.76,244.20 L631.36,247.25 Z" fill="#111"/>
<path d="M529.6,232.8 H523.4 V335 H529.6" stroke="#111" stroke-width="1.7" fill="none" />
<path d="M523.4,283.8 C507,278 492,264 482,245 L479.86,239.06" stroke="#111" stroke-width="1.7" fill="none" />
<path d="M477.50,234.00 L484.96,240.78 L481.04,241.59 L477.90,244.08 Z" fill="#111"/>
<rect x="541.4" y="234.9" width="69.7" height="28.9" rx="5.5" fill="#98acd0"/>
<text x="563.3" y="255.5" font-size="15" fill="#111" text-anchor="start" font-weight="normal" textLength="25.5" lengthAdjust="spacingAndGlyphs" stroke="#111" stroke-width="0.3">LRP</text>
<rect x="541.4" y="269.4" width="69.7" height="28.9" rx="5.5" fill="#98acd0"/>
<text x="558.5" y="289" font-size="15" fill="#111" text-anchor="start" font-weight="normal" textLength="35.1" lengthAdjust="spacingAndGlyphs" stroke="#111" stroke-width="0.3">LDLR</text>
<rect x="541.4" y="303.8" width="69.7" height="28.8" rx="5.5" fill="#98acd0"/>
<text x="555" y="323" font-size="15" fill="#111" text-anchor="start" font-weight="normal" textLength="41.7" lengthAdjust="spacingAndGlyphs" stroke="#111" stroke-width="0.3">SR-B1</text>
<rect x="541.5" y="356.2" width="69.7" height="30" rx="5.5" fill="#98acd0"/>
<text x="575.9" y="379.2" font-size="22.5" fill="#111" text-anchor="middle" font-weight="normal" textLength="9.5" lengthAdjust="spacingAndGlyphs" stroke="#111" stroke-width="0.3">?</text>
<rect x="541.5" y="390.8" width="69.7" height="29.5" rx="5.5" fill="#98acd0"/>
<text x="575.9" y="414.4" font-size="22.5" fill="#111" text-anchor="middle" font-weight="normal" textLength="9.5" lengthAdjust="spacingAndGlyphs" stroke="#111" stroke-width="0.3">?</text>
<path d="M477.9,348 C495,360 510,368 521,371.5 L522.96,372.49" stroke="#111" stroke-width="1.7" fill="none" />
<path d="M528.20,374.40 L518.13,374.88 L520.33,371.54 L520.79,367.55 Z" fill="#111"/>
<circle cx="788.20" cy="195.90" r="35" fill="#fde46e" stroke="#f2c744" stroke-width="2"/>
<text x="774.4" y="200.3" font-size="11.5" fill="#111" text-anchor="start" font-weight="normal" textLength="28" lengthAdjust="spacingAndGlyphs" stroke="#111" stroke-width="0.22">VLDL</text>
<circle cx="806.80" cy="206.20" r="4.7" fill="#c9343a"/>
<circle cx="812.40" cy="220.30" r="4.7" fill="#c9343a"/>
<circle cx="759.70" cy="217.00" r="4.0" fill="#ea8a8c"/>
<path d="M788.2,240.6 V262 L788.20,263.82" stroke="#111" stroke-width="1.7" fill="none" />
<path d="M788.20,269.40 L784.30,260.10 L788.20,261.03 L792.10,260.10 Z" fill="#111"/>
<text x="743.5" y="262" font-size="11" fill="#222" text-anchor="start" font-weight="normal" textLength="17.7" lengthAdjust="spacingAndGlyphs" stroke="#222" stroke-width="0.22">LPL</text>
<circle cx="787.60" cy="312.90" r="29.6" fill="#fcd379" stroke="#efb53e" stroke-width="2"/>
<text x="779.4" y="317.6" font-size="12" fill="#111" text-anchor="start" font-weight="normal" textLength="17.6" lengthAdjust="spacingAndGlyphs" stroke="#111" stroke-width="0.22">LDL</text>
<circle cx="783.80" cy="282.00" r="4.5" fill="#c9343a"/>
<circle cx="795.00" cy="283.50" r="4.5" fill="#c9343a"/>
<circle cx="810.90" cy="295.30" r="4.5" fill="#c9343a"/>
<circle cx="816.80" cy="311.50" r="4.5" fill="#c9343a"/>
<circle cx="806.50" cy="335.90" r="4.5" fill="#c9343a"/>
<circle cx="761.80" cy="329.70" r="4.5" fill="#c9343a"/>
<circle cx="772.00" cy="338.00" r="4.3" fill="#ea8a8c"/>
<circle cx="694.70" cy="345.30" r="20" fill="#fbc196" stroke="#f1a466" stroke-width="2"/>
<text x="683.8" y="350.2" font-size="12" fill="#111" text-anchor="start" font-weight="normal" textLength="21.5" lengthAdjust="spacingAndGlyphs" stroke="#111" stroke-width="0.22">HDL</text>
<circle cx="694.10" cy="324.10" r="4.5" fill="#c9343a"/>
<circle cx="710.30" cy="330.60" r="4.5" fill="#c9343a"/>
<circle cx="714.70" cy="341.80" r="4.5" fill="#c9343a"/>
<circle cx="703.50" cy="363.50" r="4.5" fill="#c9343a"/>
<circle cx="682.40" cy="361.50" r="4.3" fill="#ea8a8c"/>
<path d="M728,348.8 L741.5,343.6" stroke="#111" stroke-width="1.6" fill="none" />
<path d="M746.20,341.80 L740.74,347.11 L740.32,344.06 L738.59,341.51 Z" fill="#111"/>
<path d="M723.50,350.60 L728.96,345.29 L729.38,348.34 L731.11,350.89 Z" fill="#111"/>
<text x="723.5" y="366.5" font-size="11.5" fill="#222" text-anchor="start" font-weight="normal" textLength="25" lengthAdjust="spacingAndGlyphs" stroke="#222" stroke-width="0.4">PLTP</text>
<text x="723.5" y="379.1" font-size="11.5" fill="#222" text-anchor="start" font-weight="normal" textLength="25" lengthAdjust="spacingAndGlyphs" stroke="#222" stroke-width="0.4">CETP</text>
<path d="M733.8,293.8 C712,280 672,276.5 630,281.5 L626.78,281.91" stroke="#111" stroke-width="1.7" fill="none" />
<path d="M621.20,282.10 L630.36,277.88 L629.56,281.81 L630.63,285.67 Z" fill="#111"/>
<path d="M668.2,327 C655,318 642,316 630,317 L626.78,317.21" stroke="#111" stroke-width="1.7" fill="none" />
<path d="M621.20,317.40 L630.36,313.18 L629.56,317.11 L630.63,320.97 Z" fill="#111"/>
<path d="M620,351.8 H627 V423 H620" stroke="#111" stroke-width="1.7" fill="none" />
<path d="M627,387 C642,383 652,377 658,371 L660.90,369.34" stroke="#111" stroke-width="1.7" fill="none" />
<path d="M665.30,365.90 L660.37,374.70 L658.70,371.05 L655.57,368.55 Z" fill="#111"/>
<path d="M678.3,410.6 C686,400 690,390 690,383 L690.11,380.86" stroke="#111" stroke-width="1.7" fill="none" />
<path d="M690.60,375.30 L693.67,384.90 L689.87,383.64 L685.90,384.22 Z" fill="#111"/>
<path d="M788.2,353.5 V390 L788.20,392.72" stroke="#111" stroke-width="1.7" fill="none" />
<path d="M788.20,398.30 L784.30,389.00 L788.20,389.93 L792.10,389.00 Z" fill="#111"/>
<path d="M724.6,413.5 V407.2 H842.7 V413.5" stroke="#111" stroke-width="1.6" fill="none" />
<rect x="642.4" y="417.6" width="68.6" height="28.5" rx="5.5" fill="#98acd0"/>
<text x="652.8" y="437.5" font-size="15" fill="#111" text-anchor="start" font-weight="normal" textLength="47.6" lengthAdjust="spacingAndGlyphs" stroke="#111" stroke-width="0.3">ABCA1</text>
<rect x="729.1" y="417.6" width="69.1" height="28.5" rx="5.5" fill="#98acd0"/>
<text x="745.9" y="437.5" font-size="15" fill="#111" text-anchor="start" font-weight="normal" textLength="34.7" lengthAdjust="spacingAndGlyphs" stroke="#111" stroke-width="0.3">LDLR</text>
<rect x="802.9" y="417.6" width="35.4" height="28.5" rx="5.5" fill="#98acd0"/>
<text x="821.2" y="439.8" font-size="22.5" fill="#111" text-anchor="middle" font-weight="normal" textLength="10" lengthAdjust="spacingAndGlyphs" stroke="#111" stroke-width="0.3">?</text>
<circle cx="130.80" cy="516.80" r="9.4" fill="#ea8a8c"/>
<text x="149.8" y="521.2" font-size="12" fill="#222" text-anchor="start" font-weight="normal" textLength="51.4" lengthAdjust="spacingAndGlyphs" stroke="#222" stroke-width="0.22">Vitamin E</text>
<circle cx="256.40" cy="516.60" r="9.4" fill="#c9343a"/>
<text x="273.9" y="521.2" font-size="12" fill="#222" text-anchor="start" font-weight="normal" textLength="34.7" lengthAdjust="spacingAndGlyphs" stroke="#222" stroke-width="0.22">α-TOH</text>
<circle cx="357.50" cy="512.70" r="5" fill="#999999"/>
<circle cx="365.10" cy="516.40" r="8.5" fill="#ea8a8c"/>
<text x="385.4" y="521" font-size="12" fill="#222" text-anchor="start" font-weight="normal" textLength="59.3" lengthAdjust="spacingAndGlyphs" stroke="#222" stroke-width="0.22">Conjugates</text>
<circle cx="476.40" cy="517.10" r="9.2" fill="#87cbe0"/>
<text x="502" y="521" font-size="12" fill="#222" text-anchor="start" font-weight="normal" textLength="68.2" lengthAdjust="spacingAndGlyphs" stroke="#222" stroke-width="0.22">Triglycerides</text>
<circle cx="620.30" cy="517.10" r="9.2" fill="#8ea68d"/>
<text x="640.4" y="521" font-size="12" fill="#222" text-anchor="start" font-weight="normal" textLength="61.6" lengthAdjust="spacingAndGlyphs" stroke="#222" stroke-width="0.22">Cholesterol</text>
<path d="M135.20,547.90 L138.22,549.60 L141.25,547.60 L141.25,545.20 M141.25,547.60 L144.27,549.60 L147.30,547.60 L147.30,545.20 M147.30,547.60 L150.32,549.60 L153.35,547.60 L153.35,545.20 M153.35,547.60 L156.38,549.60 L159.40,547.60 L159.40,545.20 M159.40,547.60 L162.43,549.60 L165.45,547.60 L165.45,545.20 M165.45,547.60 L168.47,549.60 L171.50,547.60 L171.50,545.20 M171.50,547.60" stroke="#ea8a8c" stroke-width="1.0" fill="none" stroke-linejoin="round"/>
<circle cx="131.20" cy="547.40" r="4.4" fill="#ea8a8c"/>
<text x="171.5" y="554.8" font-size="12" fill="#e8868a" text-anchor="start" font-weight="normal" textLength="33.5" lengthAdjust="spacingAndGlyphs" >COOH</text>
<text x="210.6" y="551.4" font-size="12" fill="#222" text-anchor="start" font-weight="normal" textLength="23.4" lengthAdjust="spacingAndGlyphs" stroke="#222" stroke-width="0.22">LCM</text>
<path d="M259.50,547.90 L262.83,549.60 L266.17,547.60 L266.17,545.20 M266.17,547.60 L269.50,549.60 L272.83,547.60 L272.83,545.20 M272.83,547.60 L276.17,549.60 L279.50,547.60 L279.50,545.20 M279.50,547.60" stroke="#ea8a8c" stroke-width="1.0" fill="none" stroke-linejoin="round"/>
<circle cx="255.50" cy="547.40" r="4.4" fill="#ea8a8c"/>
<text x="279.5" y="554.8" font-size="12" fill="#e8868a" text-anchor="start" font-weight="normal" textLength="34.5" lengthAdjust="spacingAndGlyphs" >COOH</text>
<text x="320.5" y="551.2" font-size="12" fill="#222" text-anchor="start" font-weight="normal" textLength="20.5" lengthAdjust="spacingAndGlyphs" stroke="#222" stroke-width="0.22">ICM</text>
<path d="M369.10,547.90 L371.40,549.60 L373.70,547.60 L376.00,549.60 L378.30,547.60" stroke="#ea8a8c" stroke-width="1.0" fill="none" stroke-linejoin="round"/>
<circle cx="365.10" cy="547.40" r="4.4" fill="#ea8a8c"/>
<text x="378.3" y="554.8" font-size="12" fill="#e8868a" text-anchor="start" font-weight="normal" textLength="33.9" lengthAdjust="spacingAndGlyphs" >COOH</text>
<text x="418.4" y="551.2" font-size="12" fill="#222" text-anchor="start" font-weight="normal" textLength="24.3" lengthAdjust="spacingAndGlyphs" stroke="#222" stroke-width="0.22">SCM</text>
<path d="M479.50,550.00 L479.75,550.47 L480.00,550.87 L480.25,551.16 L480.50,551.29 L480.75,551.26 L481.00,551.05 L481.25,550.71 L481.50,550.27 L481.75,549.80 L482.00,549.35 L482.25,548.99 L482.50,548.76 L482.75,548.70 L483.00,548.81 L483.25,549.08 L483.50,549.47 L483.75,549.93 L484.00,550.40 L484.25,550.82 L484.50,551.13 L484.75,551.28 L485.00,551.27 L485.25,551.09 L485.50,550.76 L485.75,550.34 L486.00,549.86 L486.25,549.41 L486.50,549.03 L486.75,548.79 L487.00,548.70 L487.25,548.79 L487.50,549.03 L487.75,549.41 L488.00,549.86 L488.25,550.34 L488.50,550.76 L488.75,551.09 L489.00,551.27 L489.25,551.28 L489.50,551.13 L489.75,550.82 L490.00,550.40 L490.25,549.93 L490.50,549.47 L490.75,549.08 L491.00,548.81 L491.25,548.70 L491.50,548.76 L491.75,548.99 L492.00,549.35 L492.25,549.80 L492.50,550.27 L492.75,550.71 L493.00,551.05 L493.25,551.26 L493.50,551.29 L493.75,551.16 L494.00,550.87 L494.25,550.47 L494.50,550.00" stroke="#e0c982" stroke-width="1.4" fill="none"/>
<circle cx="476.60" cy="548.90" r="3.4" fill="#e0c982"/>
<text x="503.4" y="552.7" font-size="12" fill="#222" text-anchor="start" font-weight="normal" textLength="81.6" lengthAdjust="spacingAndGlyphs" stroke="#222" stroke-width="0.22">Free fatty acids</text>
<ellipse cx="620.30" cy="548.70" rx="13.2" ry="6.6" fill="#a8c83a" transform="rotate(0 620.30 548.70)"/>
<text x="641.7" y="552.7" font-size="12" fill="#222" text-anchor="start" font-weight="normal" textLength="49.7" lengthAdjust="spacingAndGlyphs" stroke="#222" stroke-width="0.22">Bile acids</text>
</svg>
</body></html>
